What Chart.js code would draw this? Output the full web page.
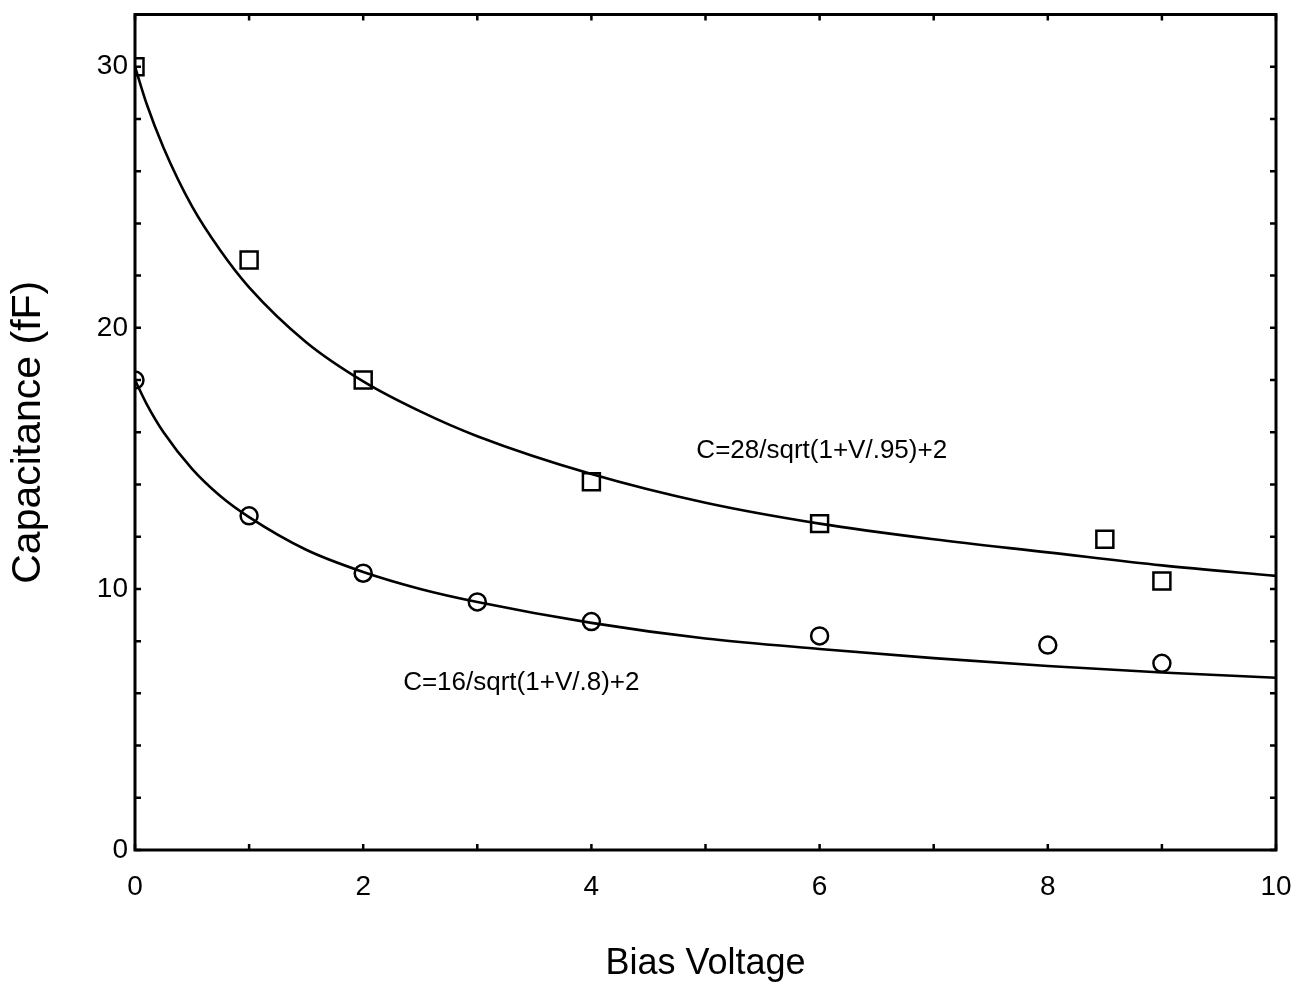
<!DOCTYPE html>
<html>
<head>
<meta charset="utf-8">
<script src="https://cdn.jsdelivr.net/npm/chart.js@4"></script>
<style>
  html, body { margin: 0; padding: 0; background: #fff; }
  #wrap { width: 1307px; height: 991px; position: relative; }
</style>
</head>
<body>
<div id="wrap"><canvas id="c"></canvas></div>
<script>
// ---- data ----
const squareX = [0, 1, 2, 4, 6, 8.5, 9];
const squareY = [30, 22.6, 18.0, 14.1, 12.5, 11.9, 10.3];

const circleX = [0, 1, 2, 3, 4, 6, 8, 9];
const circleY = [18.0, 12.8, 10.6, 9.5, 8.75, 8.2, 7.85, 7.15];

// fitted curves
const fitX      = [0, 0.1, 0.25, 0.5, 0.75, 1, 1.5, 2, 2.5, 3, 4, 5, 6, 7, 8, 9, 10];
const upperFitY = [30, 28.6, 26.9, 24.65, 22.95, 21.55, 19.45, 17.95, 16.8, 15.85, 14.4, 13.3, 12.5, 11.9, 11.4, 10.9, 10.5];
const lowerFitY = [18, 17.1, 16.0, 14.6, 13.55, 12.75, 11.5, 10.65, 10.0, 9.5, 8.7, 8.1, 7.7, 7.35, 7.05, 6.8, 6.6];

const yLabelValues = [0, 10, 20, 30];
const xLabelValues = [0, 2, 4, 6, 8, 10];

const annotationTexts = ['C=28/sqrt(1+V/.95)+2', 'C=16/sqrt(1+V/.8)+2'];
const annotationAnchorX = [4.92, 2.35];
const annotationAnchorY = [15.3, 6.4];

const xTitle = 'Bias Voltage';
const yTitle = 'Capacitance (fF)';

const FONT = "'Liberation Sans', Arial, Helvetica, sans-serif";

const pts = (xs, ys) => xs.map((x, i) => ({x, y: ys[i]}));

const framePlugin = {
  id: 'frame',
  afterDatasetsDraw(chart) {
    const {ctx, chartArea: a, scales: {x, y}} = chart;
    ctx.save();
    ctx.strokeStyle = '#000';
    ctx.lineCap = 'butt';
    ctx.lineWidth = 2.5;
    const L = 6;
    ctx.beginPath();
    x.ticks.forEach(t => {
      const px = x.getPixelForValue(t.value);
      ctx.moveTo(px, a.bottom); ctx.lineTo(px, a.bottom - L);
      ctx.moveTo(px, a.top); ctx.lineTo(px, a.top + L);
    });
    y.ticks.forEach(t => {
      const py = y.getPixelForValue(t.value);
      ctx.moveTo(a.left, py); ctx.lineTo(a.left + L, py);
      ctx.moveTo(a.right, py); ctx.lineTo(a.right - L, py);
    });
    ctx.stroke();
    ctx.lineWidth = 3;
    ctx.strokeRect(a.left, a.top, a.right - a.left, a.bottom - a.top);
    // annotations
    ctx.fillStyle = '#000';
    ctx.font = '26px ' + FONT;
    ctx.textAlign = 'left';
    ctx.textBaseline = 'middle';
    annotationTexts.forEach((t, i) => {
      ctx.fillText(t, x.getPixelForValue(annotationAnchorX[i]), y.getPixelForValue(annotationAnchorY[i]));
    });
    ctx.restore();
  }
};

new Chart(document.getElementById('c'), {
  type: 'scatter',
  data: {
    datasets: [
      {
        data: pts(fitX, upperFitY), showLine: true, pointRadius: 0,
        borderColor: '#000', borderWidth: 2.6, cubicInterpolationMode: 'monotone', clip: 0
      },
      {
        data: pts(fitX, lowerFitY), showLine: true, pointRadius: 0,
        borderColor: '#000', borderWidth: 2.6, cubicInterpolationMode: 'monotone', clip: 0
      },
      {
        data: pts(squareX, squareY), showLine: false, pointStyle: 'rect', pointRadius: 12,
        borderColor: '#000', backgroundColor: 'rgba(0,0,0,0)', borderWidth: 2.5, clip: 0
      },
      {
        data: pts(circleX, circleY), showLine: false, pointStyle: 'circle', pointRadius: 8.5,
        borderColor: '#000', backgroundColor: 'rgba(0,0,0,0)', borderWidth: 2.5, clip: 0
      }
    ]
  },
  options: {
    responsive: true,
    maintainAspectRatio: false,
    animation: false,
    events: [],
    layout: { padding: { top: 12, right: 31, left: 0, bottom: 0 } },
    plugins: { legend: { display: false }, tooltip: { enabled: false } },
    scales: {
      x: {
        type: 'linear', min: 0, max: 10,
        grid: { display: false, drawTicks: false },
        border: { display: false },
        afterFit(s) { s.height = 141; s.paddingLeft = 0; s.paddingRight = 0; },
        ticks: {
          stepSize: 1, autoSkip: false, maxRotation: 0, padding: 20,
          color: '#000', font: { family: FONT, size: 28 },
          callback: v => xLabelValues.includes(v) ? String(v) : ''
        },
        title: {
          display: true, text: xTitle, color: '#000',
          font: { family: FONT, size: 36 }, padding: { top: 0, bottom: 5 }
        }
      },
      y: {
        type: 'linear', min: 0, max: 32,
        grid: { display: false, drawTicks: false },
        border: { display: false },
        afterFit(s) { s.width = 135; s.paddingTop = 0; s.paddingBottom = 0; },
        ticks: {
          stepSize: 2, autoSkip: false, padding: 7,
          color: '#000', font: { family: FONT, size: 28 },
          callback: v => yLabelValues.includes(v) ? String(v) : ''
        },
        title: {
          display: true, text: yTitle, color: '#000',
          font: { family: FONT, size: 41 }, padding: { top: 4, bottom: 0 }
        }
      }
    }
  },
  plugins: [framePlugin]
});
</script>
</body>
</html>
